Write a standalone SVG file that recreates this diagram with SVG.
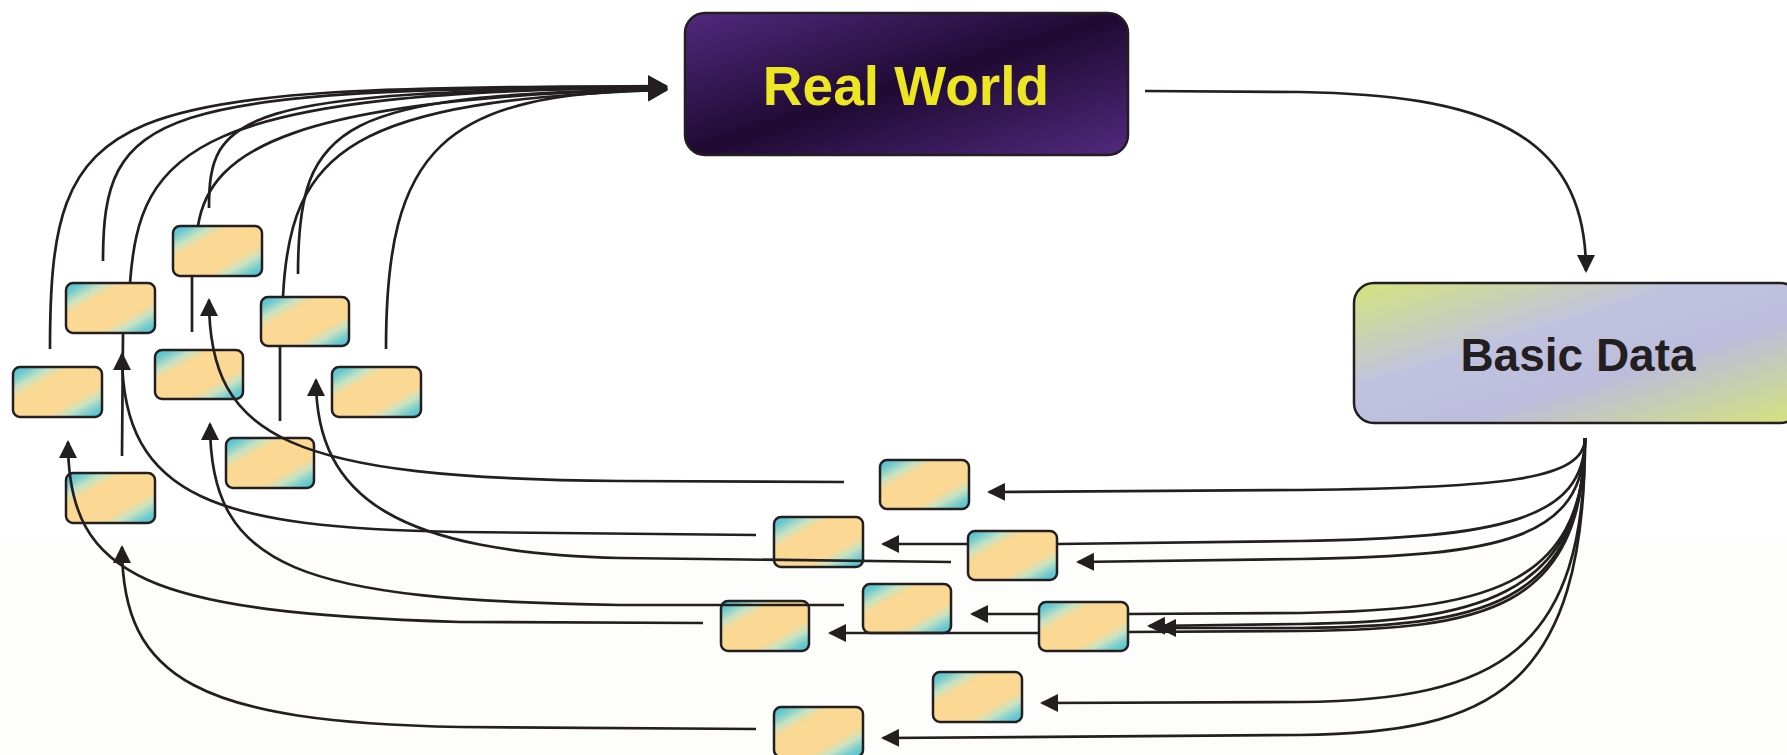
<svg xmlns="http://www.w3.org/2000/svg" width="1787" height="755" viewBox="0 0 1787 755">
  <defs>
    <linearGradient id="gSmall" x1="0" y1="0" x2="1" y2="1">
      <stop offset="0" stop-color="#45bfd0"/>
      <stop offset="0.1" stop-color="#6cc9cf"/>
      <stop offset="0.22" stop-color="#c6e3c2"/>
      <stop offset="0.32" stop-color="#fbd894"/>
      <stop offset="0.68" stop-color="#fbd894"/>
      <stop offset="0.78" stop-color="#c6e3c2"/>
      <stop offset="0.9" stop-color="#6cc9cf"/>
      <stop offset="1" stop-color="#45bfd0"/>
    </linearGradient>
    <linearGradient id="gReal" x1="0" y1="0" x2="1" y2="1">
      <stop offset="0" stop-color="#52297e"/>
      <stop offset="0.5" stop-color="#1f0a33"/>
      <stop offset="1" stop-color="#52297e"/>
    </linearGradient>
    <linearGradient id="gBasic" x1="0" y1="0" x2="1" y2="1">
      <stop offset="0" stop-color="#d4e47a"/>
      <stop offset="0.38" stop-color="#c1c2e0"/>
      <stop offset="0.62" stop-color="#bdbcdc"/>
      <stop offset="1" stop-color="#d4e47a"/>
    </linearGradient>
    <marker id="arr" viewBox="0 0 18 18" refX="16" refY="9" markerWidth="18" markerHeight="18" markerUnits="userSpaceOnUse" orient="auto">
      <path d="M0,0 L18,9 L0,18 z" fill="#231f20"/>
    </marker>
    <marker id="arrL" viewBox="0 0 20 22" refX="18" refY="11" markerWidth="20" markerHeight="22" markerUnits="userSpaceOnUse" orient="auto">
      <path d="M0,0 L20,11 L0,22 z" fill="#231f20"/>
    </marker>
  </defs>
  <style>
    .sb { fill: url(#gSmall); stroke: #231f20; stroke-width: 2.5; }
    .c { fill: none; stroke: #231f20; stroke-width: 2.7; }
    .a { marker-end: url(#arr); }
    .al { marker-end: url(#arrL); }
    .big { stroke: #231f20; stroke-width: 2.5; }
    .t { font-family: "Liberation Sans", Arial, sans-serif; font-weight: bold; text-anchor: middle; }
  </style>

  <rect x="0" y="0" width="1787" height="755" fill="#ffffff"/>
  <rect x="0" y="540" width="1787" height="215" fill="#fdfdfb"/>

  <g id="real-world">
    <rect class="big" x="685" y="13" width="443" height="142" rx="20" fill="url(#gReal)"/>
    <text class="t" x="906" y="105" font-size="55" fill="#ede623">Real World</text>
  </g>
  <g id="basic-data">
    <rect class="big" x="1354" y="283" width="446" height="140" rx="20" fill="url(#gBasic)"/>
    <text class="t" x="1578" y="371" font-size="46" fill="#231f20">Basic Data</text>
  </g>

  <g id="box-a"><rect class="sb" x="13" y="367" width="89" height="50" rx="7"/></g>
  <g id="box-b"><rect class="sb" x="66" y="283" width="89" height="50" rx="7"/></g>
  <g id="box-c"><rect class="sb" x="173" y="226" width="89" height="50" rx="7"/></g>
  <g id="box-d"><rect class="sb" x="155" y="350" width="88" height="49" rx="7"/></g>
  <g id="box-e"><rect class="sb" x="261" y="297" width="88" height="49" rx="7"/></g>
  <g id="box-f"><rect class="sb" x="332" y="367" width="89" height="50" rx="7"/></g>
  <g id="box-g"><rect class="sb" x="226" y="438" width="88" height="50" rx="7"/></g>
  <g id="box-h"><rect class="sb" x="66" y="473" width="89" height="50" rx="7"/></g>
  <g id="box-1"><rect class="sb" x="880" y="460" width="89" height="49" rx="7"/></g>
  <g id="box-2"><rect class="sb" x="774" y="517" width="89" height="50" rx="7"/></g>
  <g id="box-3"><rect class="sb" x="968" y="531" width="89" height="49" rx="7"/></g>
  <g id="box-4"><rect class="sb" x="863" y="584" width="88" height="49" rx="7"/></g>
  <g id="box-5"><rect class="sb" x="721" y="601" width="88" height="50" rx="7"/></g>
  <g id="box-6"><rect class="sb" x="1039" y="602" width="89" height="49" rx="7"/></g>
  <g id="box-7"><rect class="sb" x="933" y="672" width="89" height="50" rx="7"/></g>
  <g id="box-8"><rect class="sb" x="774" y="707" width="89" height="50" rx="7"/></g>

  <g id="connectors">
    <!-- into Real World -->
    <path class="c al" d="M50,349 C50,100 100,87 666,86"/>
    <path class="c al" d="M103,261 C103,110 150,88 666,87"/>
    <path class="c al" d="M130,283 C140,150 190,90 666,88"/>
    <path class="c al" d="M209,208 C209,115 235,90 666,88"/>
    <path class="c al" d="M198,226 C210,150 290,98 666,89"/>
    <path class="c al" d="M298,274 C298,120 340,95 666,89"/>
    <path class="c al" d="M283,297 C290,150 350,100 666,90"/>
    <path class="c al" d="M386,349 C386,150 440,92 666,90"/>
    <!-- Real World to Basic Data -->
    <path class="c a" d="M1145,91 L1300,92 C1480,95 1586,130 1586,271"/>
    <!-- short links between left boxes -->
    <path class="c" d="M192,277 L192,332"/>
    <path class="c" d="M280,346 L280,421"/>
    <path class="c" d="M123,333 L122,456"/>
    <!-- fan out of Basic Data -->
    <path class="c a" d="M1585,438 C1585,480 1500,488 1300,490 L989,492"/>
    <path class="c" d="M1585,438 C1585,520 1500,538 1300,541 L1057,544"/>
    <path class="c a" d="M968,544 L883,544"/>
    <path class="c a" d="M1585,438 C1585,540 1500,556 1300,559 L1078,562"/>
    <path class="c" d="M1585,438 C1585,590 1480,610 1300,613 L1128,614"/>
    <path class="c a" d="M1039,614 L972,614"/>
    <path class="c a" d="M1585,438 C1585,600 1470,622 1300,624 L1149,626"/>
    <path class="c a" d="M1585,438 C1583,608 1478,626 1300,628 L1160,628"/>
    <path class="c" d="M1585,438 C1583,612 1482,629 1300,631 L1128,632"/>
    <path class="c a" d="M1039,633 L830,633"/>
    <path class="c a" d="M1585,438 C1585,650 1500,700 1300,702 L1042,703"/>
    <path class="c a" d="M1585,438 C1585,690 1490,733 1300,735 L883,738"/>
    <!-- back to the left cluster -->
    <path class="c a" d="M844,482 L620,481 C290,478 209,440 209,300"/>
    <path class="c a" d="M756,535 L460,532 C220,528 122,500 122,354"/>
    <path class="c a" d="M951,562 L620,558 C400,552 316,500 316,380"/>
    <path class="c a" d="M844,605 L620,605 C300,600 210,570 210,424"/>
    <path class="c a" d="M703,623 L460,622 C150,612 68,580 68,442"/>
    <path class="c a" d="M756,729 L460,727 C200,722 122,680 122,547"/>
  </g>
</svg>
